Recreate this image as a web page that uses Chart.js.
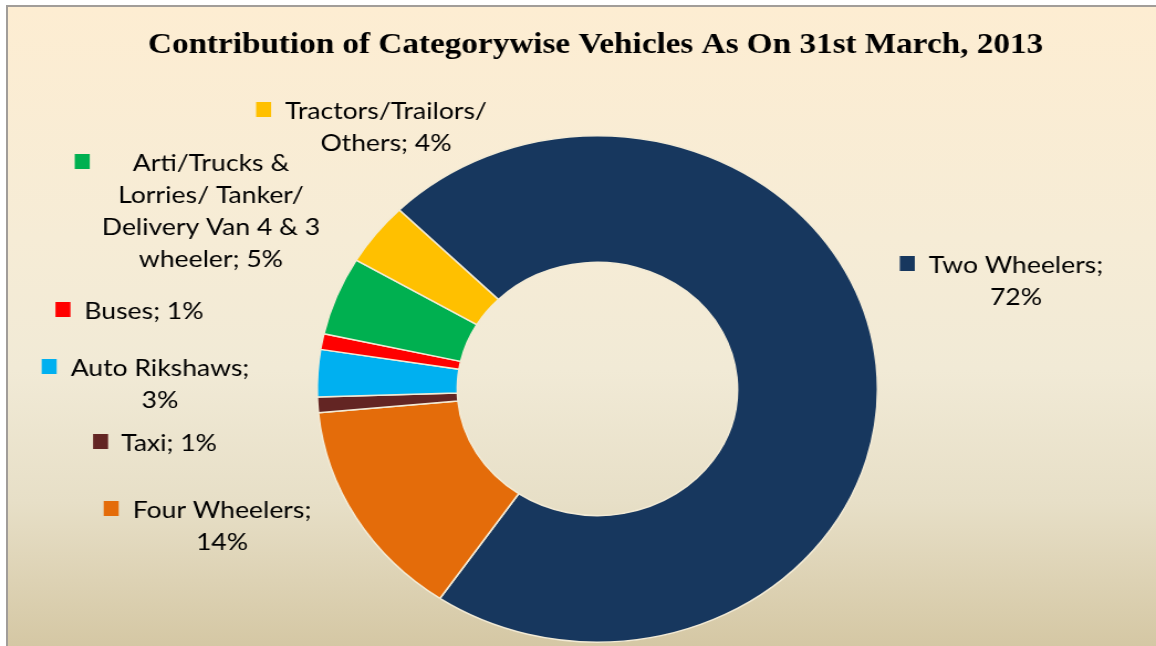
<!DOCTYPE html>
<html>
<head>
<meta charset="utf-8">
<script src="https://cdn.jsdelivr.net/npm/chart.js@4"></script>
<style>
  html, body { margin: 0; padding: 0; background: #fff; overflow: hidden; }
  #frame {
    position: absolute; left: 6px; top: 5px; width: 1160px; height: 660px;
    border: 2px solid #a19d99;
    background: linear-gradient(to bottom, #fdedd2 0%, #f6ecd6 35%, #f1ead6 55%, #e7dfc7 75%, #d2c49f 100%);
  }
  #vehicleChart { position: absolute; left: 0; top: 0; }
</style>
</head>
<body>
<div id="frame"></div>
<!-- the original picture is stretched sideways, so the canvas is drawn narrower and widened by css -->
<canvas id="vehicleChart" width="1045" height="646" style="width:1156px;height:646px"></canvas>
<script>
const categories = ['Two Wheelers', 'Four Wheelers', 'Taxi', 'Auto Rikshaws', 'Buses',
  'Arti/Trucks & Lorries/ Tanker/ Delivery Van 4 & 3 wheeler', 'Tractors/Trailors/ Others'];
const shares = [72, 14, 1, 3, 1, 5, 4];
const colors = ['#17375e', '#e46c0a', '#632523', '#00b0f0', '#ff0000', '#00b050', '#ffc000'];

const titleText = 'Contribution of Categorywise Vehicles As On 31st March, 2013';
const S = 1156 / 1045; // horizontal stretch

// where excel put each data label (page pixels): centre x, first baseline, line breaks, key gap
const labelSpots = [
  { cx: 1016, y: 273, lines: ['Two Wheelers;', '{p}'], gap: 14 },
  { cx: 222, y: 518, lines: ['Four Wheelers;', '{p}'], gap: 14 },
  { cx: 169, y: 451, lines: ['Taxi; {p}'], gap: 13 },
  { cx: 160, y: 376, lines: ['Auto Rikshaws;', '{p}'], gap: 14 },
  { cx: 144, y: 319, lines: ['Buses; {p}'], gap: 14 },
  { cx: 211, y: 171, lines: ['Arti/Trucks &', 'Lorries/ Tanker/', 'Delivery Van 4 & 3', 'wheeler; {p}'], gap: 43 },
  { cx: 386, y: 119, lines: ['Tractors/Trailors/', 'Others; {p}'], gap: 14 }
];

const textPlugin = {
  id: 'textPlugin',
  afterDraw(chart) {
    const c = chart.ctx;
    c.save();
    c.fillStyle = '#000';
    c.textAlign = 'center';
    c.textBaseline = 'alphabetic';
    c.font = 'bold 30px "Liberation Serif", "Times New Roman", serif';
    c.fillText(titleText, 595.5 / S, 53);

    const total = shares.reduce((a, b) => a + b, 0);
    c.font = '24px Lato, "Open Sans", sans-serif';
    labelSpots.forEach((spot, i) => {
      const pct = Math.round(shares[i] / total * 100) + '%';
      spot.lines.forEach((ln, k) => {
        const txt = ln.replace('{p}', pct);
        const x = spot.cx / S;
        const y = spot.y + k * 32;
        c.fillText(txt, x, y);
        if (k === 0) {
          const w = c.measureText(txt).width;
          c.fillStyle = colors[i];
          c.fillRect(x - w / 2 - spot.gap / S - 15 / S, y - 17, 15 / S, 15);
          c.fillStyle = '#000';
        }
      });
    });
    c.restore();
  }
};

new Chart(document.getElementById('vehicleChart'), {
  type: 'doughnut',
  data: {
    labels: categories,
    datasets: [{
      data: shares,
      backgroundColor: colors,
      borderColor: '#f3ebd6',
      borderWidth: 1.5
    }]
  },
  options: {
    responsive: false,
    devicePixelRatio: 1,
    animation: false,
    rotation: -45,
    cutout: '50%',
    layout: { padding: { top: 135, bottom: 3, left: 286, right: 251 } },
    plugins: {
      legend: { display: false },
      title: { display: false },
      tooltip: { enabled: false }
    }
  },
  plugins: [textPlugin]
});
</script>
</body>
</html>
